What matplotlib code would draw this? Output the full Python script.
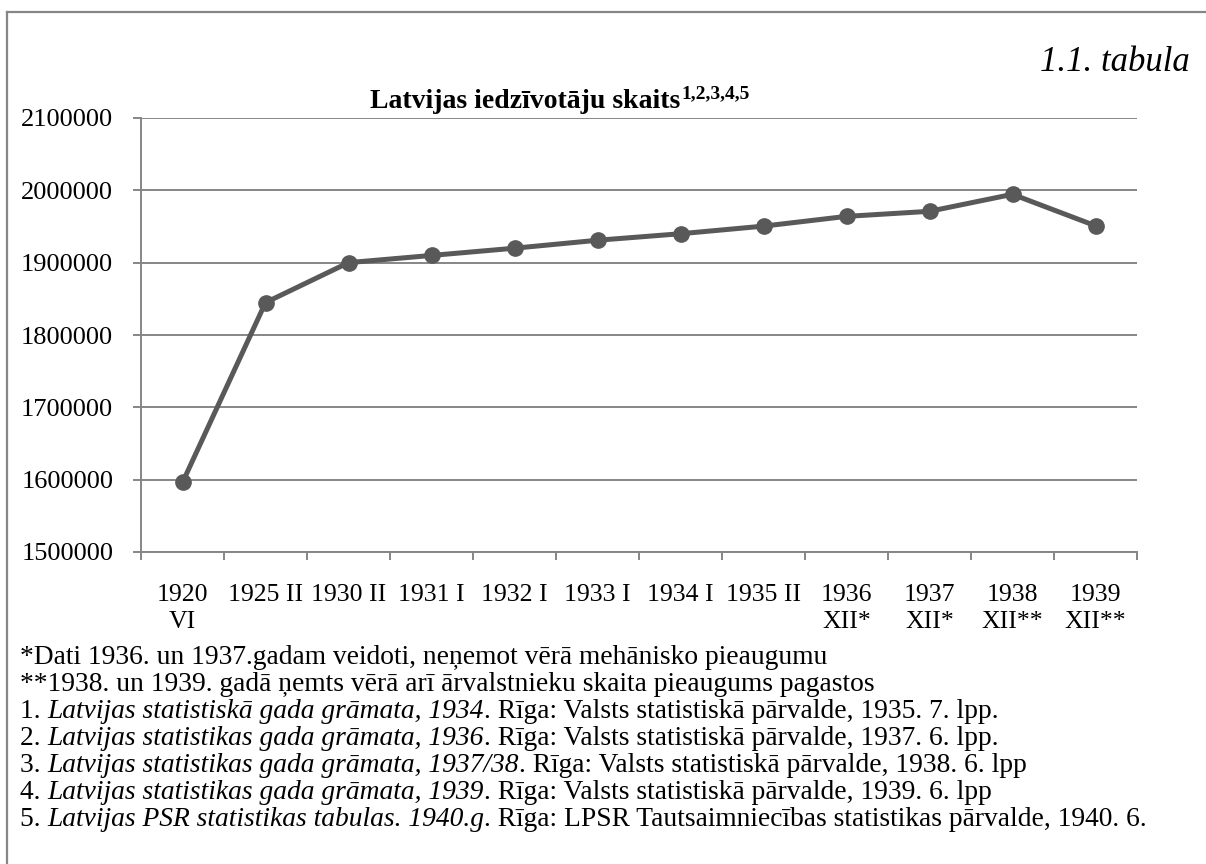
import matplotlib.pyplot as plt
import numpy as np
from matplotlib.lines import Line2D
from matplotlib.ticker import FuncFormatter

plt.rcParams['font.family'] = ['Liberation Serif', 'DejaVu Serif']

periods = ['1920\nVI', '1925 II', '1930 II', '1931 I', '1932 I', '1933 I',
           '1934 I', '1935 II', '1936\nXII*', '1937\nXII*', '1938\nXII**', '1939\nXII**']
population = [1596131, 1844805, 1900045, 1910000, 1920000, 1931000,
              1940000, 1950502, 1964000, 1971000, 1994500, 1951000]
y_ticks = [1500000, 1600000, 1700000, 1800000, 1900000, 2000000, 2100000]

# footnotes: list of (text, italic) pieces per line
notes = [
    [('*Dati 1936. un 1937.gadam veidoti, neņemot vērā mehānisko pieaugumu', False)],
    [('**1938. un 1939. gadā ņemts vērā arī ārvalstnieku skaita pieaugums pagastos', False)],
    [('1. ', False), ('Latvijas statistiskā gada grāmata, 1934', True),
     ('. Rīga: Valsts statistiskā pārvalde, 1935. 7. lpp.', False)],
    [('2. ', False), ('Latvijas statistikas gada grāmata, 1936', True),
     ('. Rīga: Valsts statistiskā pārvalde, 1937. 6. lpp.', False)],
    [('3. ', False), ('Latvijas statistikas gada grāmata, 1937/38', True),
     ('. Rīga: Valsts statistiskā pārvalde, 1938. 6. lpp', False)],
    [('4. ', False), ('Latvijas statistikas gada grāmata, 1939', True),
     ('. Rīga: Valsts statistiskā pārvalde, 1939. 6. lpp', False)],
    [('5. ', False), ('Latvijas PSR statistikas tabulas. 1940.g', True),
     ('. Rīga: LPSR Tautsaimniecības statistikas pārvalde, 1940. 6.', False)],
]

W, H = 1206, 864
fig = plt.figure(figsize=(W / 100, H / 100), dpi=100)
ax = fig.add_axes([141 / W, 1 - 552 / H, (1137 - 141) / W, (552 - 118) / H])

grey = '#868686'
x = np.arange(len(periods))
ax.plot(x, population, color='#595959', lw=3.6, marker='o', ms=11,
        solid_joinstyle='round', zorder=3)

ax.set_xlim(-0.5, len(periods) - 0.5)
ax.set_ylim(y_ticks[0], y_ticks[-1])
ax.set_yticks(y_ticks)
ax.yaxis.set_major_formatter(FuncFormatter(lambda v, p: '%d' % v))
ax.yaxis.grid(True, color=grey, lw=1.4)
ax.set_axisbelow(True)

for s in ['top', 'right']:
    ax.spines[s].set_visible(False)
for s in ['left', 'bottom']:
    ax.spines[s].set_color(grey)
    ax.spines[s].set_linewidth(1.4)

ax.set_xticks(np.arange(-0.5, len(periods), 1))
ax.set_xticklabels([])
ax.set_xticks(x, minor=True)
ax.set_xticklabels(periods, minor=True)
for t in ax.get_xticklabels(minor=True):
    t.set_linespacing(1.3)
ax.tick_params(axis='x', which='major', length=6, width=1.4, color=grey)
ax.tick_params(axis='x', which='minor', length=0, pad=23, labelsize=18.5)
ax.tick_params(axis='y', length=6, width=1.4, color=grey, labelsize=19, pad=14)

# title with superscript
fig.text(680 / W, 1 - 108 / H, 'Latvijas iedzīvotāju skaits', ha='right',
         va='baseline', fontsize=20, fontweight='bold')
fig.text(681 / W, 1 - 98 / H, '1,2,3,4,5', ha='left', va='baseline',
         fontsize=14, fontweight='bold')
fig.text(1190 / W, 1 - 71 / H, '1.1. tabula', ha='right', va='baseline',
         fontsize=25, style='italic')

# frame (only left and top edges visible)
fig.add_artist(Line2D([7 / W, 7 / W], [0, 1 - 12 / H], transform=fig.transFigure,
                      color=grey, lw=1.6))
fig.add_artist(Line2D([7 / W, 1], [1 - 12 / H, 1 - 12 / H], transform=fig.transFigure,
                      color=grey, lw=1.6))

# footnotes
renderer = fig.canvas.get_renderer()
y0 = 664
for i, line in enumerate(notes):
    xpos = 20
    for piece, italic in line:
        t = fig.text(xpos / W, 1 - (y0 + i * 27) / H, piece, ha='left', va='baseline',
                     fontsize=19.8, style='italic' if italic else 'normal')
        xpos += t.get_window_extent(renderer).width

fig.savefig('out.png', dpi=100)
